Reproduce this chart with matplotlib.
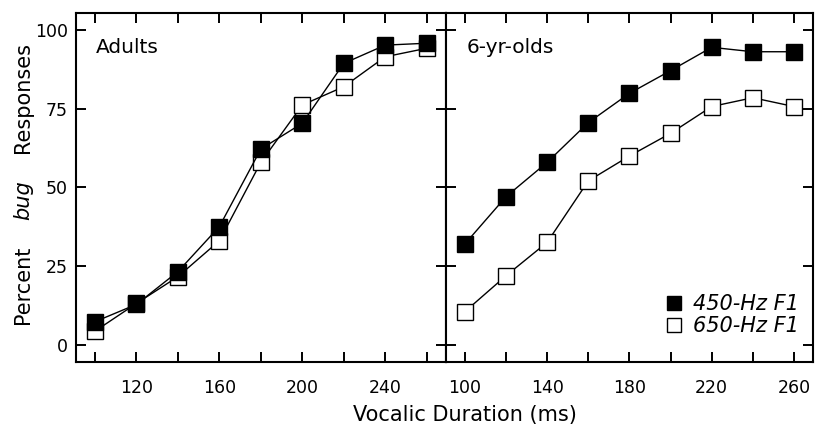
import matplotlib
matplotlib.use("Agg")
import matplotlib.pyplot as plt
from matplotlib.lines import Line2D

# vocalic durations (ms)
durations = [100, 120, 140, 160, 180, 200, 220, 240, 260]

# percent "bug" responses
adults_450 = [7.4, 12.9, 23.3, 37.6, 62.2, 70.4, 89.4, 95.2, 95.8]
adults_650 = [4.4, 13.2, 21.7, 33.1, 58.0, 76.2, 82.0, 91.5, 94.2]
kids_450 = [32.1, 47.1, 58.0, 70.6, 79.9, 87.1, 94.5, 93.1, 93.1]
kids_650 = [10.6, 22.0, 32.6, 52.1, 60.0, 67.2, 75.7, 78.5, 75.7]

panel_names = ["Adults", "6-yr-olds"]
series_names = ["450-Hz F1", "650-Hz F1"]
y_ticks = [0, 25, 50, 75, 100]
left_xlabels = [120, 160, 200, 240]
right_xlabels = [100, 140, 180, 220, 260]

plt.rcParams['font.family'] = ['DejaVu Sans']
plt.rcParams['font.size'] = 12

fig = plt.figure(figsize=(8.16, 4.29), dpi=100)
ax1 = fig.add_axes([0.0931, 0.1562, 0.4534, 0.8135])
ax2 = fig.add_axes([0.5466, 0.1562, 0.4498, 0.8135])

marker_kw = dict(marker='s', markersize=12, markeredgecolor='black',
                 markeredgewidth=1.0, color='black', linewidth=1.0)

panels = [(ax1, adults_450, adults_650, left_xlabels),
          (ax2, kids_450, kids_650, right_xlabels)]

for i, (ax, filled, hollow, xlab) in enumerate(panels):
    ax.plot(durations, hollow, markerfacecolor='white', zorder=3, **marker_kw)
    ax.plot(durations, filled, markerfacecolor='black', zorder=4, **marker_kw)
    ax.set_xlim(90.8, 269.3)
    ax.set_ylim(-5.4, 105.4)
    ax.set_xticks(durations)
    ax.set_xticklabels([str(d) if d in xlab else "" for d in durations])
    ax.set_yticks(y_ticks)
    if i == 0:
        ax.set_yticklabels([str(v) for v in y_ticks])
    else:
        ax.set_yticklabels([])
    ax.tick_params(direction='in', length=7, width=1.4, top=True, right=True,
                   labelsize=12.5)
    ax.tick_params(axis='x', pad=12)
    ax.tick_params(axis='y', pad=6)
    for sp in ax.spines.values():
        sp.set_linewidth(1.5)
    ax.text(0.055, 0.9, panel_names[i], transform=ax.transAxes, fontsize=14.5,
            va='center', ha='left')

handles = [Line2D([], [], marker='s', linestyle='none', markersize=10.5,
                  markerfacecolor=fc, markeredgecolor='black')
           for fc in ['black', 'white']]
leg = ax2.legend(handles, series_names, loc='lower right', frameon=False,
                 handlelength=0.7, handletextpad=0.6, labelspacing=0.1,
                 borderaxespad=0.0, fontsize=15,
                 bbox_to_anchor=(0.985, 0.05))
for t in leg.get_texts():
    t.set_fontstyle('italic')

# y label built from three pieces so "bug" can be italic
fig.text(0.570, 0.032, "Vocalic Duration (ms)", ha='center', va='center',
         fontsize=15)
fig.text(0.028, 0.336, "Percent", rotation=90, ha='center', va='center',
         fontsize=15)
fig.text(0.028, 0.534, "bug", rotation=90, ha='center', va='center',
         fontsize=15, style='italic')
fig.text(0.028, 0.772, "Responses", rotation=90, ha='center', va='center',
         fontsize=15)

fig.savefig("out.png", dpi=100)
